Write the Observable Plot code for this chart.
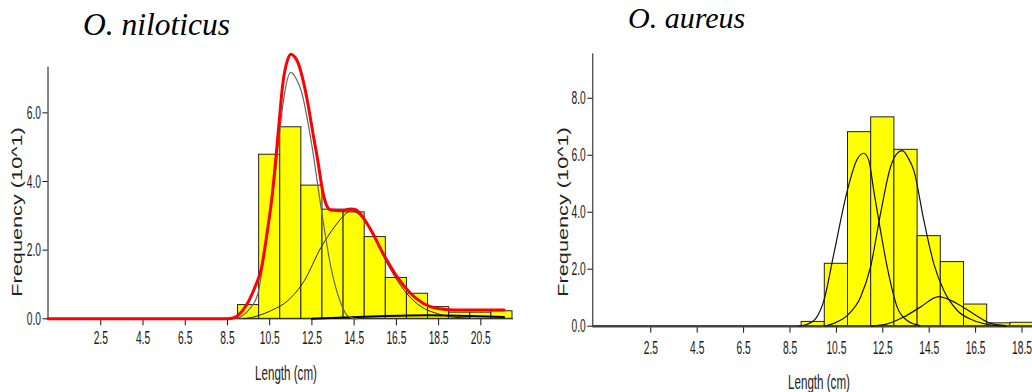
<!DOCTYPE html>
<html><head><meta charset="utf-8">
<script src="https://cdn.jsdelivr.net/npm/d3@7"></script>
<script src="https://cdn.jsdelivr.net/npm/@observablehq/plot@0.6"></script>
<style>
html,body{margin:0;padding:0;background:#fff;overflow:hidden}
#root{position:relative;width:1032px;height:392px;overflow:hidden;background:#fff}
.title{position:absolute;font-family:'Liberation Serif','Times New Roman',serif;font-style:italic;font-size:31.5px;line-height:1;white-space:nowrap;color:#000}
.alab{position:absolute;font-family:'Liberation Sans',Arial,sans-serif;white-space:nowrap;line-height:1;color:#222}
.panel{position:absolute;top:0;height:392px}
.panel svg{max-width:none !important;width:auto;}
.panel svg text{font-size:19px;font-family:'Liberation Sans',Arial,sans-serif;fill:#1a1a1a}
</style>
</head><body>
<div id="root">
  <div class="title" style="left:83px;top:9px">O. niloticus</div>
  <div class="title" style="left:628px;top:3px;font-size:30px">O. aureus</div>
  <div class="alab" style="left:17px;top:212px;font-size:14px;transform:translate(-50%,-50%) rotate(-90deg) scaleX(1.55)">Frequency (10^1)</div>
  <div class="alab" style="left:563px;top:212px;font-size:14px;transform:translate(-50%,-50%) rotate(-90deg) scaleX(1.55)">Frequency (10^1)</div>
  <div class="alab" style="left:286px;top:373px;font-size:20px;transform:translate(-50%,-50%) scaleX(0.58)">Length (cm)</div>
  <div class="alab" style="left:819px;top:382px;font-size:20px;transform:translate(-50%,-50%) scaleX(0.58)">Length (cm)</div>
  <div id="left" class="panel" style="left:0px;width:530px"></div>
  <div id="right" class="panel" style="left:540px;width:573px"></div>
</div>
<script>
// ---------- O. niloticus ----------
const nilBinStart = [9, 10, 11, 12, 13, 14, 15, 16, 17, 18, 19, 20, 21];
const nilFreq     = [0.40, 4.78, 5.58, 3.88, 3.18, 3.10, 2.38, 1.19, 0.73, 0.34, 0.18, 0.18, 0.22];
const nilTotalX = [0, 8.5, 8.8, 9.0, 9.4, 9.8, 10.1, 10.4, 10.6, 10.9, 11.12, 11.35, 11.5, 11.7, 11.85, 12.1, 12.3, 12.55, 12.78, 13.0, 13.2, 13.4, 13.9, 14.35, 14.6, 14.8, 15.28, 15.9, 16.56, 17.19, 17.8, 18.45, 19.2, 21.6];
const nilTotalY = [0, 0, 0.03, 0.10, 0.40, 0.92, 1.45, 2.60, 3.50, 5.40, 6.84, 7.55, 7.71, 7.62, 7.45, 6.90, 6.30, 5.40, 4.60, 3.75, 3.30, 3.17, 3.15, 3.20, 3.17, 3.05, 2.60, 1.87, 1.20, 0.73, 0.44, 0.30, 0.26, 0.26];
const nilC1X = [9.0, 9.5, 9.94, 10.25, 10.5, 10.73, 11.0, 11.2, 11.5, 11.75, 11.99, 12.46, 12.93, 13.4, 13.88, 14.2, 14.6];
const nilC1Y = [0.02, 0.25, 0.73, 1.89, 3.00, 4.03, 5.60, 6.55, 7.18, 7.00, 6.65, 5.19, 3.25, 1.50, 0.44, 0.08, 0];
const nilC2X = [9.3, 9.78, 10.57, 11.36, 12.14, 12.93, 13.56, 14.0, 14.35, 14.8, 15.28, 15.9, 16.56, 17.19, 17.82, 18.45, 19.2, 20.0];
const nilC2Y = [0, 0.06, 0.24, 0.53, 1.11, 2.08, 2.67, 3.00, 3.15, 3.00, 2.57, 1.80, 1.10, 0.60, 0.30, 0.15, 0.05, 0.02];
const nilC3X = [12.5, 14, 16, 18, 20, 21.6];
const nilC3Y = [0, 0.04, 0.08, 0.10, 0.08, 0.05];

// ---------- O. aureus ----------
const aurBinStart = [9, 10, 11, 12, 13, 14, 15, 16, 17, 18];
const aurFreq     = [0.15, 2.19, 6.81, 7.33, 6.19, 3.16, 2.25, 0.76, 0.10, 0.12];
const aurC1X = [8.9, 9.24, 9.6, 9.96, 10.39, 10.97, 11.4, 11.68, 11.9, 12.11, 12.4, 12.69, 13.12, 13.55, 14.1];
const aurC1Y = [0, 0.07, 0.26, 0.90, 2.54, 4.76, 5.87, 6.07, 5.81, 4.76, 3.36, 2.07, 0.67, 0.20, 0.02];
const aurC2X = [10.0, 10.39, 10.97, 11.54, 11.97, 12.4, 12.83, 13.1, 13.34, 13.6, 13.84, 14.27, 14.7, 15.13, 15.71, 16.42, 17.1, 17.8];
const aurC2Y = [0, 0.10, 0.38, 1.02, 2.07, 3.94, 5.58, 6.05, 6.16, 5.90, 5.46, 3.71, 2.19, 1.25, 0.55, 0.20, 0.05, 0];
const aurC3X = [12.0, 12.69, 13.4, 14.12, 14.91, 15.3, 15.71, 16.42, 17.14, 17.8];
const aurC3Y = [0, 0.08, 0.32, 0.67, 1.04, 0.95, 0.79, 0.43, 0.10, 0.02];

const nilTicksX = [2.5, 4.5, 6.5, 8.5, 10.5, 12.5, 14.5, 16.5, 18.5, 20.5];
const nilTicksY = [0, 2, 4, 6];
const aurTicksX = [2.5, 4.5, 6.5, 8.5, 10.5, 12.5, 14.5, 16.5, 18.5, 20.5];
const aurTicksY = [0, 2, 4, 6, 8];

const pts = (xs, ys) => xs.map((x, i) => ({x, y: ys[i]}));
const bins = (starts, f) => starts.map((s, i) => ({x1: s, x2: s + 1, y: f[i]}));

const fontStyle = {fontFamily: "'Liberation Sans', Arial, sans-serif", fontSize: "19px", color: "#111", background: "transparent", overflow: "visible", maxWidth: "none"};

const left = Plot.plot({
  width: 530, height: 392,
  marginLeft: 47.5, marginRight: 18, marginTop: 66.7, marginBottom: 73.7,
  style: fontStyle,
  x: {domain: [0, 22], ticks: nilTicksX, tickFormat: d => d.toFixed(1), tickSize: 7, tickPadding: 5, label: null, line: true},
  y: {domain: [0, 7.33], ticks: nilTicksY, tickFormat: d => d.toFixed(1), tickSize: 5, tickPadding: 2, label: null, line: true},
  marks: [
    Plot.rectY(bins(nilBinStart, nilFreq), {x1: "x1", x2: "x2", y: "y", fill: "#ffff00", stroke: "#222", strokeWidth: 1}),
    Plot.line(pts(nilC3X, nilC3Y), {x: "x", y: "y", stroke: "#000", strokeWidth: 2, curve: "monotone-x"}),
    Plot.line(pts(nilC2X, nilC2Y), {x: "x", y: "y", stroke: "#222", strokeWidth: 1, curve: "monotone-x"}),
    Plot.line(pts(nilC1X, nilC1Y), {x: "x", y: "y", stroke: "#666", strokeWidth: 1.2, curve: "monotone-x"}),
    Plot.line(pts(nilTotalX, nilTotalY), {x: "x", y: "y", stroke: "#ff0000", strokeWidth: 3, curve: "monotone-x"})
  ]
});

const right = Plot.plot({
  width: 573, height: 392,
  marginLeft: 52.3, marginRight: 10.3, marginTop: 53.3, marginBottom: 66.3,
  style: fontStyle,
  x: {domain: [0, 22], ticks: aurTicksX, tickFormat: d => d.toFixed(1), tickSize: 7, tickPadding: 7, label: null, line: false},
  y: {domain: [0, 9.56], ticks: aurTicksY, tickFormat: d => d.toFixed(1), tickSize: 5, tickPadding: 2, label: null, line: true},
  marks: [
    Plot.rectY(bins(aurBinStart, aurFreq), {x1: "x1", x2: "x2", y: "y", fill: "#ffff00", stroke: "#222", strokeWidth: 1}),
    Plot.ruleY([0], {stroke: "#444", strokeWidth: 2.5}),
    Plot.line(pts(aurC3X, aurC3Y), {x: "x", y: "y", stroke: "#111", strokeWidth: 1.2, curve: "monotone-x"}),
    Plot.line(pts(aurC2X, aurC2Y), {x: "x", y: "y", stroke: "#111", strokeWidth: 1.2, curve: "monotone-x"}),
    Plot.line(pts(aurC1X, aurC1Y), {x: "x", y: "y", stroke: "#111", strokeWidth: 1.2, curve: "monotone-x"})
  ]
});

for (const [svg, w] of [[left, 530], [right, 573]]) {
  svg.style.maxWidth = "none";
  svg.style.width = w + "px";
  svg.style.height = "392px";
}
document.getElementById("left").appendChild(left);
document.getElementById("right").appendChild(right);

// condense tick labels horizontally, like the reference's narrow digits
function condense(svg, s) {
  svg.querySelectorAll("text").forEach(t => {
    t.style.fontSize = "19px";
    const b = t.getBBox();
    const anchor = getComputedStyle(t).textAnchor;
    let ox = b.x + b.width / 2;
    if (anchor === "end") ox = b.x + b.width;
    else if (anchor === "start") ox = b.x;
    const oy = b.y + b.height / 2;
    const prev = t.getAttribute("transform") || "";
    t.setAttribute("transform", `${prev} translate(${ox},${oy}) scale(${s},1) translate(${-ox},${-oy})`);
  });
}
condense(left, 0.54);
condense(right, 0.54);
</script>
</body></html>
